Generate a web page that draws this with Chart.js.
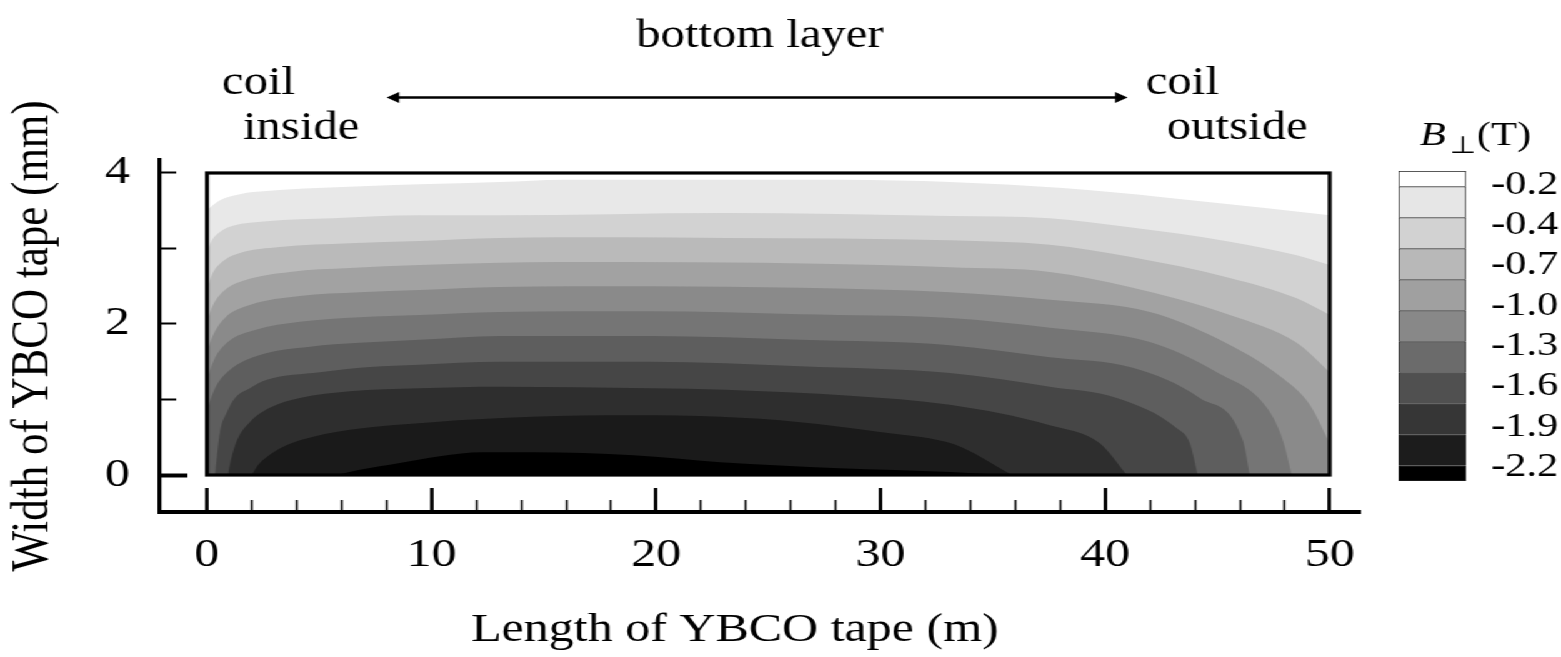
<!DOCTYPE html>
<html>
<head>
<meta charset="utf-8">
<script src="https://cdn.jsdelivr.net/npm/chart.js@4.4.1/dist/chart.umd.min.js"></script>
<style>
  html, body { margin: 0; padding: 0; background: #fff; overflow: hidden; }
  /* the figure is drawn 1249 wide and widened to 1561 */
  #stage { position: absolute; left: 0; top: 0; width: 1249px; height: 657px; transform: scaleX(1.2498); transform-origin: 0 0; }
  #field { position: absolute; left: 0; top: 0; }
  #scale { position: absolute; left: 1100px; top: 0; }
</style>
</head>
<body>
<div id="stage">
  <canvas id="field" width="1249" height="657"></canvas>
  <canvas id="scale" width="149" height="657"></canvas>
</div>
<script>
// B_perp contour boundaries on the tape: [length (m), width (mm)].
// Everything below a boundary is at least as strong as that level.
const contour1 = [[0,3.51],[0.58,3.64],[1.47,3.72],[2.67,3.76],[4.90,3.80],[9.48,3.85],[13.05,3.88],[15.85,3.91],[23.06,3.91],[28.32,3.91],[33.08,3.88],[38.11,3.80],[42.56,3.68],[47.02,3.54],[50,3.44]];
const contour2 = [[0,2.95],[0.22,3.11],[0.58,3.22],[1.16,3.30],[2.67,3.36],[5.61,3.40],[9.48,3.44],[13.05,3.44],[23.06,3.47],[33.08,3.43],[37.53,3.40],[41.09,3.28],[45.55,3.09],[48.53,2.91],[50,2.78]];
const contour3 = [[0,2.45],[0.22,2.65],[0.67,2.82],[1.47,2.94],[3.25,3.02],[6.37,3.07],[9.48,3.10],[13.05,3.14],[18.39,3.15],[23.06,3.14],[33.08,3.11],[37.53,3.05],[41.09,2.89],[45.55,2.61],[48.53,2.34],[50,2.12]];
const contour4 = [[0,2.03],[0.27,2.25],[0.80,2.45],[1.69,2.58],[3.70,2.69],[6.37,2.74],[9.48,2.78],[13.05,2.81],[18.39,2.82],[24.62,2.81],[29.96,2.78],[33.08,2.75],[37.53,2.69],[41.09,2.49],[45.55,2.12],[48.53,1.75],[50,1.36]];
const contour5 = [[0,1.63],[0.27,1.85],[0.80,2.08],[1.91,2.25],[4.14,2.37],[6.81,2.42],[9.48,2.45],[13.05,2.49],[19.72,2.50],[26.40,2.48],[33.08,2.42],[37.53,2.32],[41.99,2.16],[44.97,1.81],[47.91,1.28],[49.11,0.93],[50,0.42]];
const contour6 = [[0,1.26],[0.31,1.52],[0.93,1.76],[2.14,1.92],[4.14,2.03],[6.81,2.09],[9.48,2.12],[13.05,2.16],[19.72,2.17],[26.40,2.13],[33.08,2.08],[37.53,1.95],[41.99,1.76],[44.97,1.36],[47.20,0.89],[47.91,0.46],[48.31,0]];
const contour7 = [[0,0.86],[0.36,1.15],[1.02,1.39],[2.36,1.59],[4.59,1.70],[6.81,1.75],[9.48,1.79],[13.05,1.84],[19.72,1.84],[26.40,1.79],[33.08,1.72],[37.53,1.56],[41.23,1.42],[44.21,1.02],[46.13,0.46],[46.44,0]];
const contour8 = [[0.36,0],[0.45,0.26],[0.58,0.57],[0.89,0.83],[1.25,1.02],[1.91,1.15],[2.67,1.26],[5.03,1.36],[7.26,1.43],[9.48,1.46],[13.05,1.50],[19.72,1.50],[26.40,1.44],[33.08,1.35],[37.53,1.17],[40.52,1.02],[43.19,0.62],[43.77,0.42],[44.12,0]];
const contour9 = [[0.93,0],[1.07,0.20],[1.34,0.46],[1.91,0.70],[2.80,0.89],[4.14,1.02],[6.37,1.11],[9.48,1.15],[13.05,1.17],[19.72,1.15],[23.06,1.13],[28.63,1.05],[33.08,0.93],[37.53,0.66],[39.76,0.42],[40.96,0]];
const contour10 = [[2.00,0],[2.27,0.13],[2.67,0.24],[3.38,0.37],[4.14,0.46],[6.37,0.60],[10.06,0.70],[14.51,0.77],[18.97,0.79],[22.84,0.77],[26.40,0.70],[29.96,0.57],[32.90,0.44],[33.66,0.36],[35.84,0]];
const contour11 = [[5.79,0],[6.81,0.07],[8.59,0.16],[10.37,0.25],[12.29,0.30],[14.51,0.30],[18.97,0.26],[22.84,0.17],[28.14,0.09],[33.08,0.04],[35.53,0]];

const contours = [contour1, contour2, contour3, contour4, contour5, contour6, contour7, contour8, contour9, contour10, contour11];
const fillShades = ['#e8e8e8', '#d2d2d2', '#bababa', '#a2a2a2', '#8a8a8a', '#757575', '#5e5e5e', '#464646', '#2e2e2e', '#1a1a1a', '#000000'];

// axes
const xMajor = [0, 10, 20, 30, 40, 50];
const xMinor = [0, 2, 4, 6, 8, 10, 12, 14, 16, 18, 20, 22, 24, 26, 28, 30, 32, 34, 36, 38, 40, 42, 44, 46, 48, 50];
const yTicks = [0, 1, 2, 3, 4];
const yLabelled = [0, 2, 4];

// colour bar (bottom to top) and its labels (top to bottom)
const barShades = ['#000000', '#1c1c1c', '#363636', '#505050', '#6b6b6b', '#888888', '#a0a0a0', '#b8b8b8', '#d2d2d2', '#e6e6e6', '#ffffff'];
const barSizes = [0.5, 1, 1, 1, 1, 1, 1, 1, 1, 1, 0.5];
const barLabels = ['-0.2', '-0.4', '-0.7', '-1.0', '-1.3', '-1.6', '-1.9', '-2.2'];

const arrowSpan = { from: 8.0, to: 41.0, y: 5.0 };

const SERIF = '"Liberation Serif", "Times New Roman", serif';
const X_MIN = -2.093, X_MAX = 51.34, Y_MIN = -0.49, Y_MAX = 4.172;

const framePlugin = {
  id: 'frame',
  afterDatasetsDraw(chart) {
    const { ctx, scales: { x, y } } = chart;
    const l = x.getPixelForValue(0), r = x.getPixelForValue(50);
    const t = y.getPixelForValue(4), b = y.getPixelForValue(0);
    ctx.save();
    ctx.lineWidth = 3.2;
    ctx.strokeStyle = '#000';
    ctx.strokeRect(l, t, r - l, b - t);
    ctx.restore();
  }
};

const notesPlugin = {
  id: 'notes',
  afterDraw(chart) {
    const { ctx, scales: { x, y } } = chart;
    ctx.save();
    ctx.fillStyle = '#000';
    ctx.strokeStyle = '#000';
    ctx.font = '39px ' + SERIF;
    ctx.textBaseline = 'alphabetic';
    ctx.textAlign = 'left';
    ctx.fillText('coil', 177.6, 94);
    ctx.fillText('inside', 194.4, 139);
    ctx.fillText('coil', 916.8, 94);
    ctx.fillText('outside', 933.6, 139);

    // x axis title, sits a little left of the frame centre
    ctx.font = '40px ' + SERIF;
    ctx.textAlign = 'center';
    ctx.textBaseline = 'middle';
    ctx.fillText('Length of YBCO tape (m)', 588, 630);

    // double headed arrow over the tape
    const ay = y.getPixelForValue(arrowSpan.y);
    const a0 = x.getPixelForValue(arrowSpan.from);
    const a1 = x.getPixelForValue(arrowSpan.to);
    const head = 10, half = 5.5;
    ctx.lineWidth = 2.4;
    ctx.beginPath();
    ctx.moveTo(a0 + head - 1, ay);
    ctx.lineTo(a1 - head + 1, ay);
    ctx.stroke();
    ctx.beginPath();
    ctx.moveTo(a0, ay); ctx.lineTo(a0 + head, ay - half); ctx.lineTo(a0 + head, ay + half); ctx.closePath();
    ctx.moveTo(a1, ay); ctx.lineTo(a1 - head, ay - half); ctx.lineTo(a1 - head, ay + half); ctx.closePath();
    ctx.fill();
    ctx.restore();
  }
};

new Chart(document.getElementById('field'), {
  type: 'line',
  data: {
    datasets: contours.map((c, i) => ({
      data: c.map(p => ({ x: p[0], y: p[1] })),
      backgroundColor: fillShades[i],
      borderWidth: 0,
      pointRadius: 0,
      fill: 'origin',
      cubicInterpolationMode: 'monotone',
      order: contours.length - i
    }))
  },
  options: {
    responsive: false,
    animation: false,
    events: [],
    layout: { padding: { left: 0, top: 0, right: 161, bottom: 0 } },
    plugins: {
      legend: { display: false },
      tooltip: { enabled: false },
      title: {
        display: true,
        text: 'bottom layer',
        fullSize: false,
        color: '#000',
        font: { family: SERIF, size: 39, weight: 'normal' },
        padding: { top: 13, bottom: 100.2 }
      }
    },
    scales: {
      x: {
        type: 'linear', position: 'bottom', min: X_MIN, max: X_MAX,
        afterBuildTicks: s => { s.ticks = xMajor.map(v => ({ value: v })); },
        afterFit: s => { s.height = 145; },
        grid: { drawOnChartArea: false, tickLength: -24, tickWidth: 2.8, tickColor: '#000' },
        border: { display: true, color: '#000', width: 4 },
        ticks: { color: '#000', font: { family: SERIF, size: 40 }, padding: 43, maxRotation: 0, autoSkip: false }
      },
      xm: {
        type: 'linear', position: { y: Y_MIN }, min: X_MIN, max: X_MAX,
        afterBuildTicks: s => { s.ticks = xMinor.map(v => ({ value: v })); },
        grid: { drawOnChartArea: false, tickLength: -12, tickWidth: 1.6, tickColor: '#000' },
        border: { display: false },
        ticks: { display: false }
      },
      y: {
        type: 'linear', position: 'left', min: Y_MIN, max: Y_MAX,
        afterBuildTicks: s => { s.ticks = yTicks.map(v => ({ value: v })); },
        afterFit: s => { s.width = 128; },
        grid: {
          drawOnChartArea: false, tickLength: -13, tickWidth: 2,
          tickColor: c => (c.tick && c.tick.value === 0 ? 'rgba(0,0,0,0)' : '#000')
        },
        border: { display: true, color: '#000', width: 3.2 },
        ticks: {
          color: '#000', font: { family: SERIF, size: 40 }, padding: 37, autoSkip: false,
          callback: v => (yLabelled.includes(v) ? String(v) : '')
        },
        title: { display: true, text: 'Width of YBCO tape (mm)', color: '#000', font: { family: SERIF, size: 43 }, padding: { top: 1, bottom: 0 } }
      },
      y0: {
        type: 'linear', position: { x: X_MIN }, min: Y_MIN, max: Y_MAX,
        afterBuildTicks: s => { s.ticks = [{ value: 0 }]; },
        grid: { drawOnChartArea: false, tickLength: -22, tickWidth: 4, tickColor: '#000' },
        border: { display: false },
        ticks: { display: false }
      }
    }
  },
  plugins: [framePlugin, notesPlugin]
});

const barTitlePlugin = {
  id: 'barTitle',
  afterDraw(chart) {
    const { ctx } = chart;
    ctx.save();
    ctx.fillStyle = '#000';
    ctx.textBaseline = 'alphabetic';
    ctx.textAlign = 'left';
    ctx.font = 'italic 34px ' + SERIF;
    ctx.fillText('B', 36, 145);
    ctx.font = '24px ' + SERIF;
    ctx.fillText('\u22A5', 60, 153);
    ctx.font = '34px ' + SERIF;
    ctx.fillText('(T)', 81.6, 145);
    ctx.restore();
  }
};

new Chart(document.getElementById('scale'), {
  type: 'bar',
  data: {
    labels: [''],
    datasets: barShades.map((c, i) => ({
      data: [barSizes[i]],
      backgroundColor: c,
      borderColor: '#222',
      borderWidth: 1,
      borderSkipped: i === 0 ? false : 'start',
      barPercentage: 1,
      categoryPercentage: 1
    }))
  },
  options: {
    responsive: false,
    animation: false,
    events: [],
    layout: { padding: { left: 19, top: 171, right: 0, bottom: 176 } },
    plugins: { legend: { display: false }, tooltip: { enabled: false } },
    scales: {
      x: { display: false, stacked: true },
      y: {
        stacked: true, position: 'right', min: 0, max: 10,
        afterFit: s => { s.width = 76; },
        afterBuildTicks: s => { s.ticks = barLabels.map((_, i) => ({ value: 9.55 - 1.3 * i })); },
        grid: { display: false },
        border: { display: false },
        ticks: {
          color: '#000', font: { family: SERIF, size: 34 }, padding: 12, autoSkip: false,
          callback: (v, i) => barLabels[i]
        }
      }
    }
  },
  plugins: [barTitlePlugin]
});
</script>
</body>
</html>
